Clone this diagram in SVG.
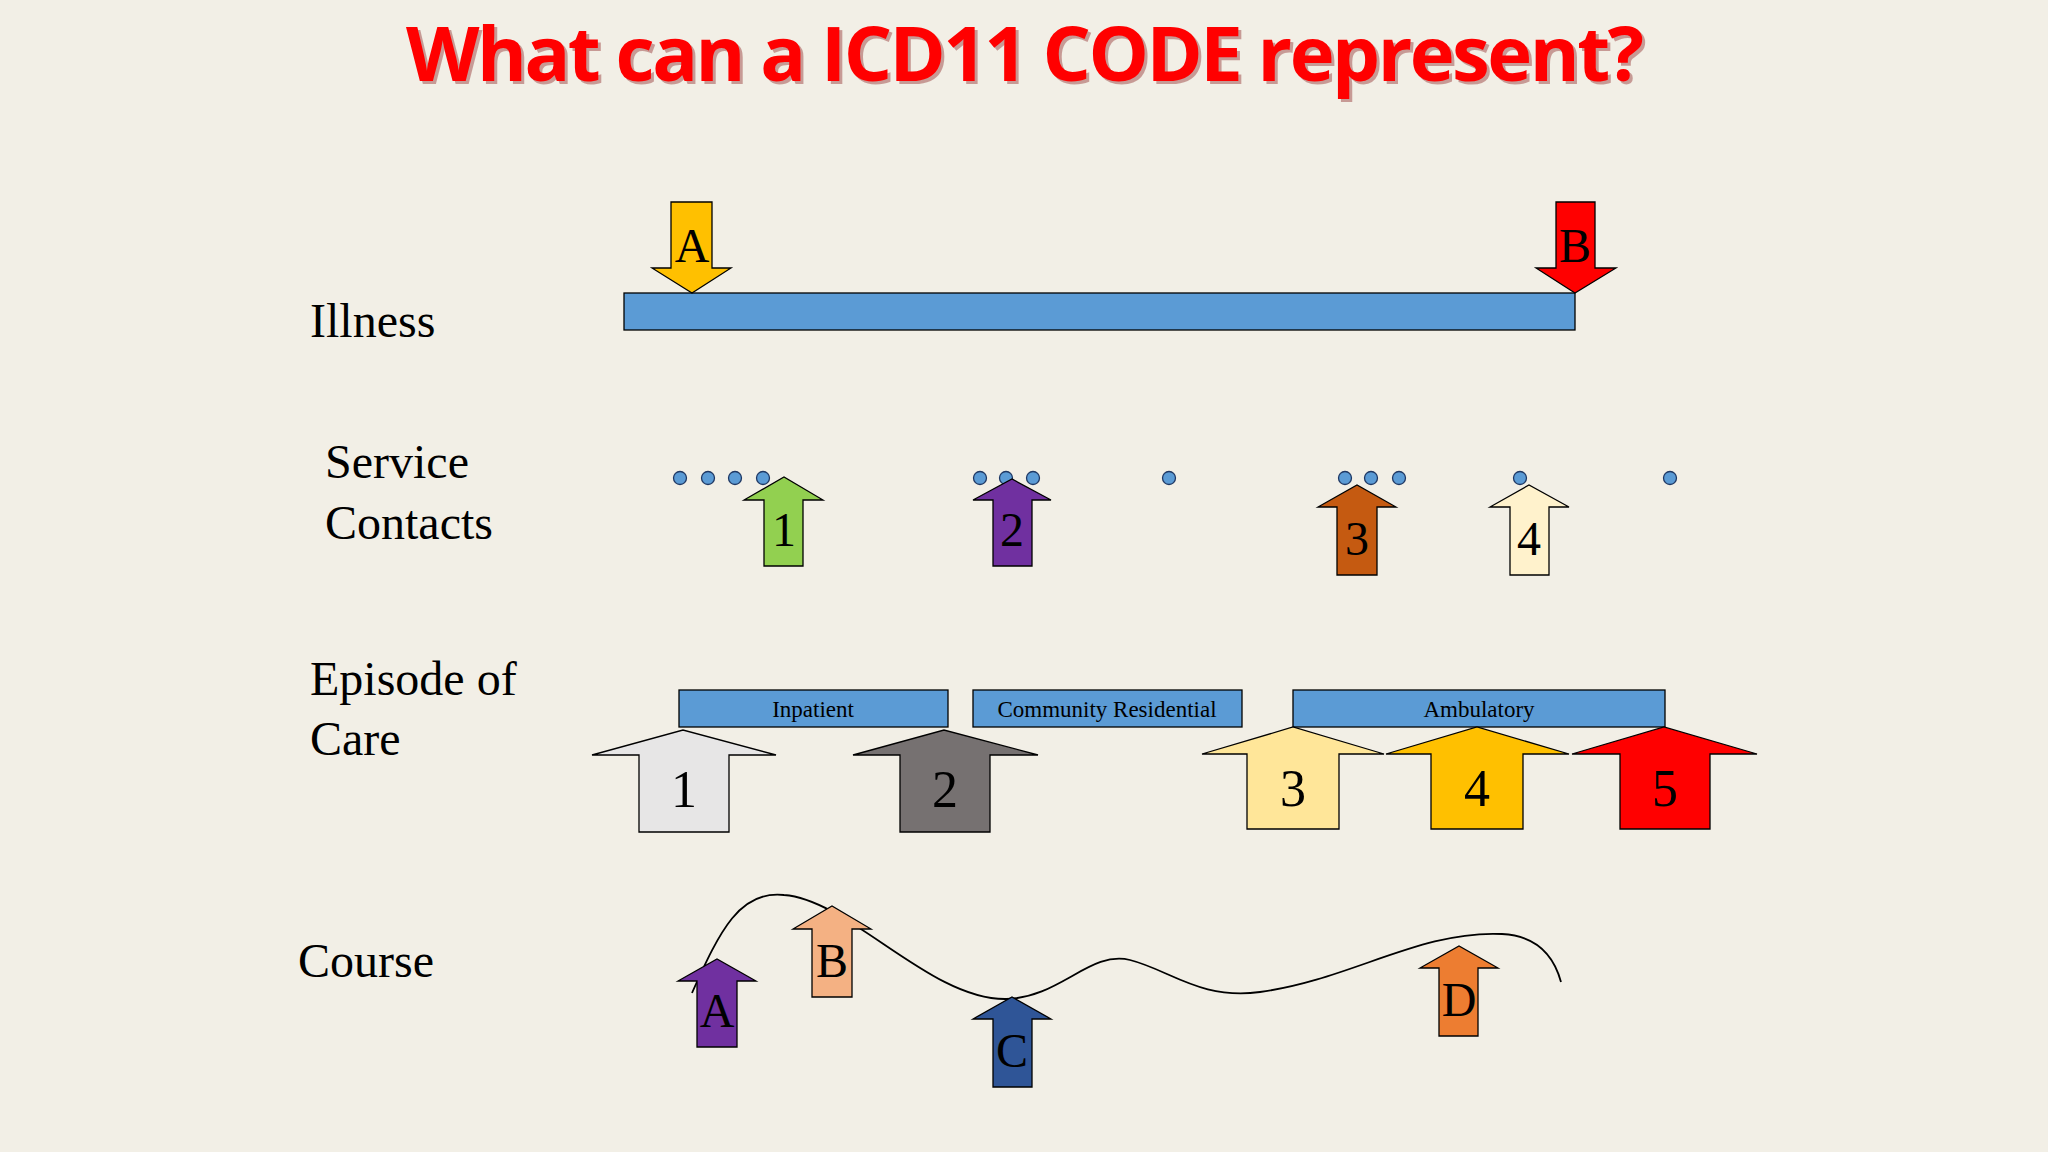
<svg xmlns="http://www.w3.org/2000/svg" width="2048" height="1152" viewBox="0 0 2048 1152">
<style>
.lbl{font-family:"Liberation Serif",serif;font-size:48px;fill:#000}
.num{font-family:"Liberation Serif",serif;font-size:48px;fill:#000;text-anchor:middle}
.big{font-family:"Liberation Serif",serif;font-size:52px;fill:#000;text-anchor:middle}
.bar{fill:#5b9bd5;stroke:#000;stroke-width:1.3}
.bt{font-family:"Liberation Serif",serif;font-size:23px;fill:#000;text-anchor:middle}
.ar{stroke:#000;stroke-width:1.3}
.dot{fill:#5b9bd5;stroke:#1f3864;stroke-width:1.3}
</style>
<rect width="2048" height="1152" fill="#f2efe6"/>
<text x="1028" y="84" text-anchor="middle" font-family="Open Sans,Liberation Sans,sans-serif" font-weight="bold" font-size="76" fill="#7a0000" opacity="0.35" textLength="1238">What can a ICD11 CODE represent?</text>
<text x="1025" y="81" text-anchor="middle" font-family="Open Sans,Liberation Sans,sans-serif" font-weight="bold" font-size="76" fill="#ff0000" textLength="1238">What can a ICD11 CODE represent?</text>

<g id="illness">
<text class="lbl" x="310" y="337">Illness</text>
<rect class="bar" x="624" y="293" width="951" height="37"/>
<g id="ill-A"><polygon class="ar" fill="#ffc000" points="671,202 712,202 712,268 731,268 692,293 652,268 671,268"/><text class="num" x="692" y="262">A</text></g>
<g id="ill-B"><polygon class="ar" fill="#ff0000" points="1556,202 1595,202 1595,268 1616,268 1575,293 1536,268 1556,268"/><text class="num" x="1575" y="262">B</text></g>
</g>

<g id="service">
<text class="lbl" x="325" y="478">Service</text>
<text class="lbl" x="325" y="539">Contacts</text>
<g>
<circle class="dot" cx="680" cy="478" r="6.5"/><circle class="dot" cx="708" cy="478" r="6.5"/><circle class="dot" cx="735" cy="478" r="6.5"/><circle class="dot" cx="763" cy="478" r="6.5"/>
<circle class="dot" cx="980" cy="478" r="6.5"/><circle class="dot" cx="1006" cy="478" r="6.5"/><circle class="dot" cx="1033" cy="478" r="6.5"/>
<circle class="dot" cx="1169" cy="478" r="6.5"/>
<circle class="dot" cx="1345" cy="478" r="6.5"/><circle class="dot" cx="1371" cy="478" r="6.5"/><circle class="dot" cx="1399" cy="478" r="6.5"/>
<circle class="dot" cx="1520" cy="478" r="6.5"/><circle class="dot" cx="1670" cy="478" r="6.5"/>
</g>
<g id="sc1"><polygon class="ar" fill="#92d050" points="764,566 803,566 803,500 823,500 784,477 744,500 764,500"/><text class="num" x="784" y="546">1</text></g>
<g id="sc2"><polygon class="ar" fill="#7030a0" points="993,566 1032,566 1032,500 1051,500 1012,479 973,500 993,500"/><text class="num" x="1012" y="546">2</text></g>
<g id="sc3"><polygon class="ar" fill="#c55a11" points="1337,575 1377,575 1377,507 1396,507 1357,485 1318,507 1337,507"/><text class="num" x="1357" y="555">3</text></g>
<g id="sc4"><polygon class="ar" fill="#fff2cc" points="1510,575 1549,575 1549,507 1569,507 1529,485 1490,507 1510,507"/><text class="num" x="1529" y="555">4</text></g>
</g>

<g id="episode">
<text class="lbl" x="310" y="695">Episode of</text>
<text class="lbl" x="310" y="755">Care</text>
<g id="ep-inpatient"><rect class="bar" x="679" y="690" width="269" height="37"/><text class="bt" x="813" y="717">Inpatient</text></g>
<g id="ep-community"><rect class="bar" x="973" y="690" width="269" height="37"/><text class="bt" x="1107" y="717">Community Residential</text></g>
<g id="ep-ambulatory"><rect class="bar" x="1293" y="690" width="372" height="37"/><text class="bt" x="1479" y="717">Ambulatory</text></g>
<g id="ep1"><polygon class="ar" fill="#e7e6e6" points="639,832 729,832 729,755 776,755 683,730 592,755 639,755"/><text class="big" x="684" y="807">1</text></g>
<g id="ep2"><polygon class="ar" fill="#767171" points="900,832 990,832 990,755 1038,755 944,730 853,755 900,755"/><text class="big" x="945" y="807">2</text></g>
<g id="ep3"><polygon class="ar" fill="#ffe699" points="1247,829 1339,829 1339,754 1384,754 1293,727 1202,754 1247,754"/><text class="big" x="1293" y="806">3</text></g>
<g id="ep4"><polygon class="ar" fill="#ffc000" points="1431,829 1523,829 1523,754 1569,754 1477,727 1386,754 1431,754"/><text class="big" x="1477" y="806">4</text></g>
<g id="ep5"><polygon class="ar" fill="#ff0000" points="1620,829 1710,829 1710,754 1757,754 1664,727 1572,754 1620,754"/><text class="big" x="1665" y="806">5</text></g>
</g>

<g id="connectors">
<path d="M692,993 C720,930 740,890 784,895 C850,900 930,1000 1006,999 C1060,998 1090,950 1130,960 C1170,970 1200,1000 1260,992 C1350,980 1420,930 1502,934 C1540,936 1555,960 1561,982" fill="none" stroke="#000" stroke-width="1.8"/>
</g>

<g id="course">
<text class="lbl" x="298" y="977">Course</text>
<g id="co-A"><polygon class="ar" fill="#7030a0" points="697,1047 737,1047 737,981 756,981 717,959 678,981 697,981"/><text class="num" x="717" y="1027">A</text></g>
<g id="co-B"><polygon class="ar" fill="#f4b183" points="812,997 852,997 852,929 871,929 832,906 793,929 812,929"/><text class="num" x="832" y="977">B</text></g>
<g id="co-C"><polygon class="ar" fill="#2f5597" points="993,1087 1032,1087 1032,1019 1051,1019 1012,997 973,1019 993,1019"/><text class="num" x="1012" y="1067">C</text></g>
<g id="co-D"><polygon class="ar" fill="#ed7d31" points="1439,1036 1478,1036 1478,968 1498,968 1459,946 1420,968 1439,968"/><text class="num" x="1459" y="1016">D</text></g>
</g>
</svg>
